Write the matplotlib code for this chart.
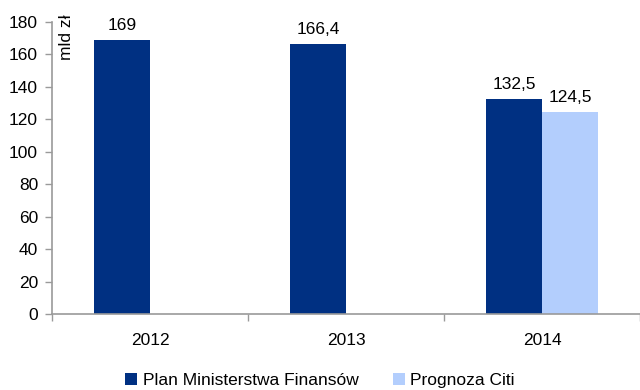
import matplotlib
matplotlib.use("Agg")
import matplotlib.pyplot as plt
import numpy as np

# dane
years = ["2012", "2013", "2014"]
plan_mf = [169, 166.4, 132.5]
prognoza_citi = [None, None, 124.5]
series_names = ["Plan Ministerstwa Finansów", "Prognoza Citi"]
y_ticks = [0, 20, 40, 60, 80, 100, 120, 140, 160, 180]

c_dark = "#003082"
c_light = "#B3CEFD"
c_axis = "#9a9a9a"

plt.rcParams['font.family'] = ['Liberation Sans', 'DejaVu Sans']
plt.rcParams['font.size'] = 12.5

fig = plt.figure(figsize=(6.4, 3.9), dpi=100)
ax = fig.add_axes([52 / 640, 76 / 390, 1 - 52 / 640, (314 - 22) / 390])

x = np.arange(len(years)) + 0.5
w = 0.285

# słupki
b1 = ax.bar(x - w / 2, plan_mf, w, color=c_dark, label=series_names[0])
for xi, v in zip(x, plan_mf):
    ax.annotate(f"{v:g}".replace(".", ","), (xi - w / 2, v), xytext=(0, 5),
                textcoords="offset points", ha="center", va="bottom")
citi_x = [xi + w / 2 for xi, v in zip(x, prognoza_citi) if v is not None]
citi_v = [v for v in prognoza_citi if v is not None]
b2 = ax.bar(citi_x, citi_v, w, color=c_light, label=series_names[1])
for xi, v in zip(citi_x, citi_v):
    ax.annotate(f"{v:g}".replace(".", ","), (xi, v), xytext=(0, 5),
                textcoords="offset points", ha="center", va="bottom")

# osie
ax.set_xlim(0, 3)
ax.set_ylim(0, 180)
ax.set_yticks(y_ticks)
ax.set_xticks([0, 1, 2, 3])
ax.set_xticklabels([])
ax.set_xticks(x, minor=True)
ax.set_xticklabels(years, minor=True)
ax.tick_params(axis='x', which='minor', length=0, pad=14)
ax.tick_params(axis='x', which='major', length=5, color=c_axis, width=1)
ax.tick_params(axis='y', length=5, color=c_axis, width=1, pad=5)
for s in ['top', 'right']:
    ax.spines[s].set_visible(False)
for s in ['left', 'bottom']:
    ax.spines[s].set_color(c_axis)
    ax.spines[s].set_linewidth(1.2)

ax.text(0.012, 1.025, "mld zł", rotation=90, transform=ax.transAxes,
        ha="left", va="top")

fig.legend(handles=[b1, b2], loc="lower center", bbox_to_anchor=(0.5, -0.035),
           ncol=2, frameon=False, handlelength=0.7, handleheight=0.7,
           handletextpad=0.3, columnspacing=2.0)

fig.savefig("out.png", dpi=100)
